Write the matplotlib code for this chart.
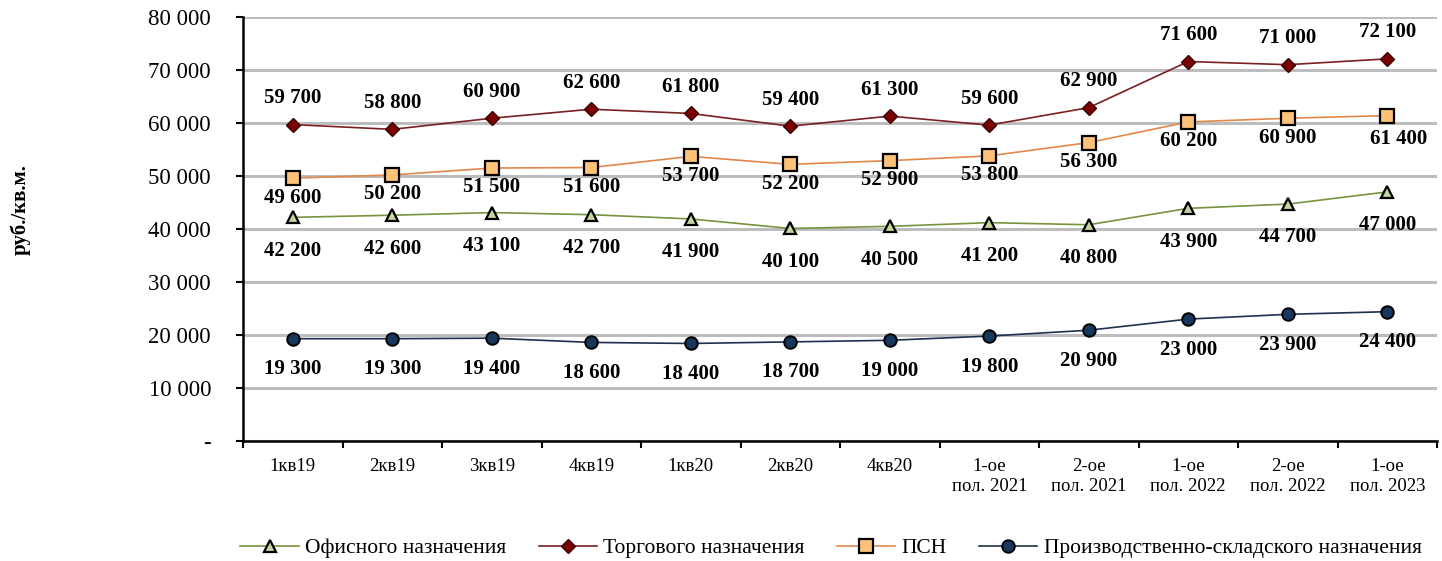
import matplotlib
matplotlib.use("Agg")
import matplotlib.pyplot as plt
from matplotlib.ticker import FuncFormatter

plt.rcParams['font.family'] = ['Liberation Serif', 'DejaVu Serif']

periods = ["1кв19", "2кв19", "3кв19", "4кв19", "1кв20", "2кв20", "4кв20",
           "1-ое\nпол. 2021", "2-ое\nпол. 2021", "1-ое\nпол. 2022",
           "2-ое\nпол. 2022", "1-ое\nпол. 2023"]

office = [42200, 42600, 43100, 42700, 41900, 40100, 40500, 41200, 40800, 43900, 44700, 47000]
retail = [59700, 58800, 60900, 62600, 61800, 59400, 61300, 59600, 62900, 71600, 71000, 72100]
psn = [49600, 50200, 51500, 51600, 53700, 52200, 52900, 53800, 56300, 60200, 60900, 61400]
industrial = [19300, 19300, 19400, 18600, 18400, 18700, 19000, 19800, 20900, 23000, 23900, 24400]

names = ["Офисного назначения", "Торгового назначения", "ПСН",
         "Производственно-складского назначения"]


def fmt(v):
    return f"{int(v):,}".replace(",", " ")


fig = plt.figure(figsize=(14.42, 5.61), dpi=100)
ax = fig.add_axes([243 / 1442, 1 - 441 / 561, (1437 - 243) / 1442, (441 - 17) / 561])

x = list(range(len(periods)))

series = [
    (office, dict(color="#77933c", marker="^", mfc="#c3d69b", mec="black", ms=9, mew=1.6), -24),
    (retail, dict(color="#7b2020", marker="D", mfc="#7a0000", mec="#3a0000", ms=7, mew=1.0), 19),
    (psn, dict(color="#e3874a", marker="s", mfc="#fdc27a", mec="black", ms=10, mew=1.6), -14),
    (industrial, dict(color="#1f3050", marker="o", mfc="#17375e", mec="black", ms=9, mew=1.4), -22),
]

handles = []
for (vals, style, dy), name in zip(series, names):
    h, = ax.plot(x, vals, lw=1.2, label=name, zorder=3, **style)
    handles.append(h)
    for xi, v in zip(x, vals):
        ox, oy = 0, dy
        if vals is psn and xi == len(x) - 1:
            ox, oy = 8, -17
        ax.annotate(fmt(v), (xi, v), xytext=(ox, oy), textcoords="offset points",
                    ha="center", va="center", fontsize=15, fontweight="bold", zorder=4)

ax.set_xlim(-0.5, len(x) - 0.5)
ax.set_ylim(0, 80000)
ax.set_yticks(range(0, 80001, 10000))
ax.yaxis.set_major_formatter(FuncFormatter(lambda v, p: "-" if v == 0 else fmt(v)))
ax.set_xticks([i - 0.5 for i in range(len(x) + 1)], minor=False)
ax.set_xticklabels([])
ax.set_xticks(x, minor=True)
ax.set_xticklabels(periods, minor=True, fontsize=13.5, linespacing=1.25)
ax.tick_params(axis="x", which="minor", length=0, pad=12)
ax.tick_params(axis="x", which="major", length=5, width=1.5, direction="out")
ax.tick_params(axis="y", length=5, width=1.5, labelsize=16.5, pad=18)

ax.grid(axis="y", color="#bdbdbd", lw=2.2, zorder=0)
ax.set_axisbelow(True)
for s in ("top", "right"):
    ax.spines[s].set_visible(False)
for s in ("left", "bottom"):
    ax.spines[s].set_linewidth(1.8)
    ax.spines[s].set_color("black")

fig.text(20 / 1442, 1 - 210 / 561, "руб./кв.м.", rotation=90, ha="center", va="center",
         fontsize=15, fontweight="bold")

fig.legend(handles=handles, loc="center", bbox_to_anchor=(831 / 1442, 1 - 548 / 561),
           ncol=4, frameon=False, fontsize=15.5, handlelength=2.7, columnspacing=1.5,
           handletextpad=0.3)

fig.savefig("out.png", dpi=100)
